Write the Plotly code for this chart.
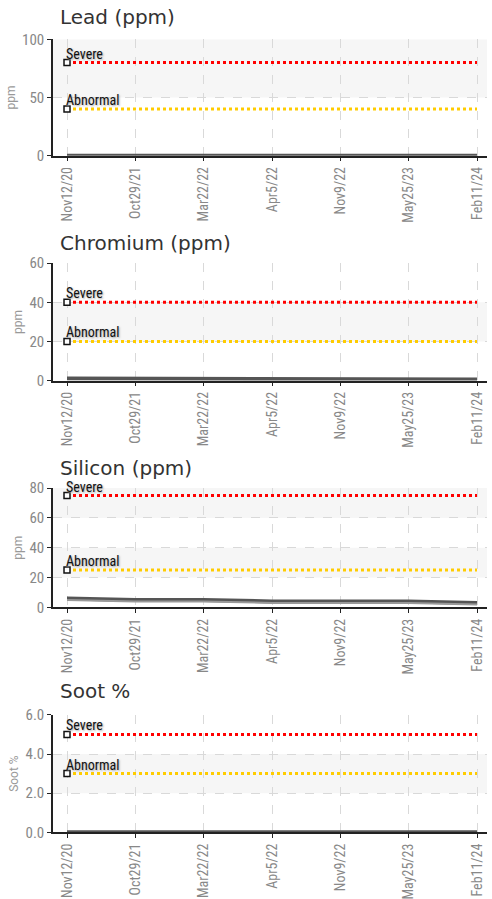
import plotly.graph_objects as go

# ---- data ----
dates = ["Nov12/20", "Oct29/21", "Mar22/22", "Apr5/22", "Nov9/22", "May25/23", "Feb11/24"]

panels = ["Lead (ppm)", "Chromium (ppm)", "Silicon (ppm)", "Soot %"]
y_titles = ["ppm", "ppm", "ppm", "Soot %"]
y_max = [100, 60, 80, 6]
y_dtick = [50, 20, 20, 2]
severe = [80, 40, 75, 5]
abnormal = [40, 20, 25, 3]

lead = [0, 0, 0, 0, 0.8, 0, 0]
chromium = [1, 1, 1, 0.5, 0.5, 0.5, 0.6]
silicon = [6, 5, 5, 4, 4, 4, 3]
silicon_b = [5, 4, 4, 3, 3, 3, 2]
soot = [0, 0, 0, 0, 0, 0, 0]

values = [[lead], [chromium], [silicon, silicon_b], [soot]]

# ---- layout geometry (pixels, pre-compensated for the page's vertical placement) ----
W, H = 492, 899
x_left, x_right = 53, 487
panel_px = [(31, 150), (260, 380), (490, 612), (722, 842)]
title_px = [8, 239, 469, 698]

tick_font = "Liberation Sans Narrow, Roboto Condensed, Arial Narrow, sans-serif"

fig = go.Figure()
layout = dict(
    width=W, height=H, margin=dict(l=0, r=0, t=0, b=0),
    paper_bgcolor="white", plot_bgcolor="white", showlegend=False,
    annotations=[], shapes=[],
)

for i in range(4):
    n = "" if i == 0 else str(i + 1)
    xa, ya = "x" + n, "y" + n
    top, bot = panel_px[i]
    layout["xaxis" + n] = dict(
        domain=[x_left / W, x_right / W], anchor=ya,
        type="category", range=[-0.205, 6.146],
        tickvals=dates, ticktext=dates, tickangle=-90,
        tickfont=dict(family=tick_font, size=14, color="#888"),
        showgrid=True, gridcolor="#d9d9d9", griddash="dash", gridwidth=1,
        showline=True, linecolor="#222", linewidth=1.5,
        ticks="outside", ticklen=4, tickcolor="#222", zeroline=False,
    )
    layout["yaxis" + n] = dict(
        domain=[1 - bot / H, 1 - top / H], anchor=xa,
        range=[0, y_max[i]], dtick=y_dtick[i],
        tickformat=".1f" if i == 3 else "d",
        tickfont=dict(family=tick_font, size=15, color="#888"),
        showgrid=True, gridcolor="#d9d9d9", griddash="dash", gridwidth=1,
        showline=True, linecolor="#222", linewidth=1.5,
        ticks="outside", ticklen=4, tickcolor="#222", zeroline=False,
        title=dict(text=y_titles[i], font=dict(family="Roboto, sans-serif", size=12, color="#999"), standoff=4),
    )
    # alternating bands
    k = 0
    v = 0
    while v < y_max[i]:
        if k % 2 == 1:
            layout["shapes"].append(dict(
                type="rect", xref=xa + " domain", yref=ya, x0=0, x1=1,
                y0=v, y1=v + y_dtick[i], fillcolor="#f6f6f6", line_width=0, layer="below"))
        v += y_dtick[i]
        k += 1
    # titles
    layout["annotations"].append(dict(
        text=panels[i], xref="paper", yref="paper", x=58 / W, y=1 - title_px[i] / H,
        xanchor="left", yanchor="middle", showarrow=False,
        font=dict(family="DejaVu Sans, sans-serif", size=20, color="#333")))

    # data lines
    cols = ["#555555", "#999999"]
    for j, ser in enumerate(values[i]):
        fig.add_trace(go.Scatter(x=dates, y=ser, xaxis=xa, yaxis=ya, mode="lines",
                                 line=dict(color=cols[j], width=4 if j == 0 else 2),
                                 hoverinfo="skip"))
    # threshold lines
    for lvl, col, name in [(severe[i], "#ff0000", "Severe"), (abnormal[i], "#ffcc00", "Abnormal")]:
        fig.add_trace(go.Scatter(x=dates, y=[lvl] * len(dates), xaxis=xa, yaxis=ya, mode="lines",
                                 line=dict(color=col, width=3, dash="dot"), hoverinfo="skip"))
        fig.add_trace(go.Scatter(x=[dates[0]], y=[lvl], xaxis=xa, yaxis=ya, mode="markers",
                                 marker=dict(symbol="square", size=6, color="white",
                                             line=dict(color="#111", width=1.5)), hoverinfo="skip"))
        layout["annotations"].append(dict(
            text=name, xref=xa, yref=ya, x=dates[0], y=lvl, xanchor="left", yanchor="bottom",
            xshift=-3, yshift=-1, showarrow=False,
            font=dict(family=tick_font, size=14, color="#111", shadow="1px 1px 2px #aaa")))

fig.update_layout(**layout)

post = (
    "document.documentElement.style.cssText='margin:0;padding:0;overflow:hidden;';"
    "document.body.style.cssText='margin:0;padding:0;overflow:hidden;';"
)
fig.write_html("out.html", config={"displayModeBar": False}, post_script=post)
